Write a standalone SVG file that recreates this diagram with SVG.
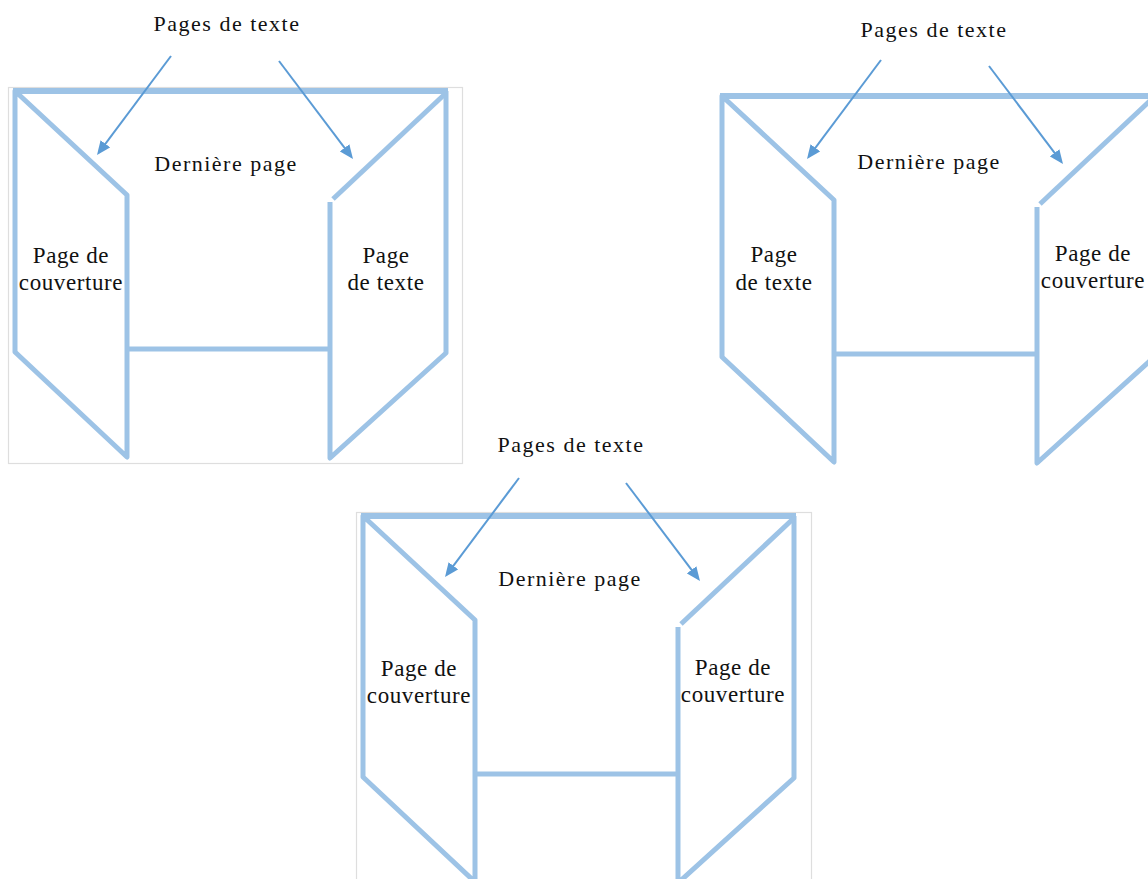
<svg xmlns="http://www.w3.org/2000/svg" xmlns:xlink="http://www.w3.org/1999/xlink" width="1148" height="879" viewBox="0 0 1148 879">
<style>
.bg{fill:#ffffff}
.frame{fill:none;stroke:#dedede;stroke-width:1.2}
.pl{fill:none;stroke:#9dc3e6;stroke-width:5;stroke-linejoin:round}
.top{fill:none;stroke:#9dc3e6;stroke-width:6}
.arr{fill:none;stroke:#5b9bd5;stroke-width:2}
.t{font-family:"Liberation Serif","Times New Roman",serif;fill:#111;text-anchor:middle}
.h{font-size:22px;letter-spacing:1.5px}
.l{font-size:23px;letter-spacing:0.6px}
</style>
<defs>
<marker id="ah" markerUnits="userSpaceOnUse" markerWidth="14" markerHeight="12" refX="11" refY="6" orient="auto">
<path d="M0,0 L14,6 L0,12 Z" fill="#5b9bd5"/>
</marker>
<g id="booklet">
<path class="top" d="M13,91 H448"/>
<path class="pl" d="M15,91 V352 L127,457 V195 Z"/>
<path class="pl" d="M446,91 V353 L330,458 V202"/>
<path class="pl" d="M333,199 L446,93"/>
<path class="pl" d="M127,349 H330"/>
</g>
</defs>
<rect class="bg" x="0" y="0" width="1148" height="879"/>

<g id="fig1">
<rect class="frame" x="8.5" y="87.5" width="454" height="376"/>
<use xlink:href="#booklet" href="#booklet"/>
<text class="t h" x="227" y="31">Pages de texte</text>
<text class="t h" x="226" y="171">Dernière page</text>
<text class="t l" x="71" y="263">Page de</text>
<text class="t l" x="71" y="290">couverture</text>
<text class="t l" x="386" y="263">Page</text>
<text class="t l" x="386" y="290">de texte</text>
</g>

<g id="fig2">
<use xlink:href="#booklet" href="#booklet" transform="translate(707,5)"/>
<text class="t h" x="934" y="37">Pages de texte</text>
<text class="t h" x="929" y="169">Dernière page</text>
<text class="t l" x="774" y="262">Page</text>
<text class="t l" x="774" y="290">de texte</text>
<text class="t l" x="1093" y="261">Page de</text>
<text class="t l" x="1093" y="288">couverture</text>
</g>

<g id="fig3">
<rect class="frame" x="356.5" y="512.5" width="455" height="376"/>
<use xlink:href="#booklet" href="#booklet" transform="translate(348,425)"/>
<text class="t h" x="571" y="452">Pages de texte</text>
<text class="t h" x="570" y="586">Dernière page</text>
<text class="t l" x="419" y="676">Page de</text>
<text class="t l" x="419" y="703">couverture</text>
<text class="t l" x="733" y="675">Page de</text>
<text class="t l" x="733" y="702">couverture</text>
</g>

<g id="connectors">
<line class="arr" x1="171" y1="56" x2="98.8" y2="152.6" marker-end="url(#ah)"/>
<line class="arr" x1="279" y1="61" x2="351.2" y2="156.6" marker-end="url(#ah)"/>
<line class="arr" x1="881" y1="60" x2="808.8" y2="156.6" marker-end="url(#ah)"/>
<line class="arr" x1="989" y1="66" x2="1061.2" y2="161.6" marker-end="url(#ah)"/>
<line class="arr" x1="519" y1="478" x2="446.8" y2="574.6" marker-end="url(#ah)"/>
<line class="arr" x1="626" y1="483" x2="698.2" y2="578.6" marker-end="url(#ah)"/>
</g>
</svg>
